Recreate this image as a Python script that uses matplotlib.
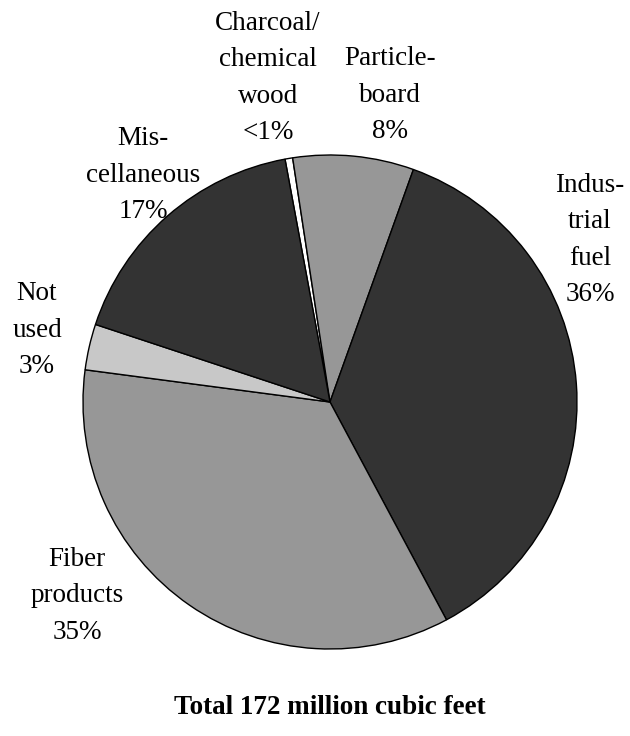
import matplotlib
matplotlib.use("Agg")
import matplotlib.pyplot as plt

# Data (percent of total 172 million cubic feet), clockwise from top
categories = ["Charcoal/\nchemical\nwood", "Particle-\nboard", "Indus-\ntrial\nfuel",
              "Fiber\nproducts", "Not\nused", "Mis-\ncellaneous"]
values = [0.5, 7.9, 36.7, 34.9, 3.0, 17.0]
pct_labels = ["<1%", "8%", "36%", "35%", "3%", "17%"]
colors = ["#ffffff", "#979797", "#333333", "#979797", "#c8c8c8", "#333333"]
title = "Total 172 million cubic feet"

# label centres in pixel coords (layout)
label_px = [(268, 78), (390, 95), (590, 240), (77, 596), (37, 330), (143, 175)]

W, H = 630, 736
fig = plt.figure(figsize=(W / 100, H / 100), dpi=100)
cx, cy, r = 330, 402, 247
ax = fig.add_axes([(cx - r) / W, (H - cy - r) / H, 2 * r / W, 2 * r / H])
ax.pie(values, colors=colors, startangle=100.5, counterclock=False,
       wedgeprops=dict(edgecolor="black", linewidth=1.0))
ax.set_xlim(-1, 1)
ax.set_ylim(-1, 1)
ax.set_aspect("equal")
ax.axis("off")

font = "Liberation Serif"
for cat, pct, (px, py) in zip(categories, pct_labels, label_px):
    fig.text(px / W, 1 - py / H, cat + "\n" + pct, ha="center", va="center",
             fontsize=19.5, family=font, linespacing=1.58)

fig.text(330 / W, 1 - 708 / H, title, ha="center", va="center",
         fontsize=19.5, family=font, fontweight="bold")

fig.savefig("out.png", dpi=100, facecolor="white")
